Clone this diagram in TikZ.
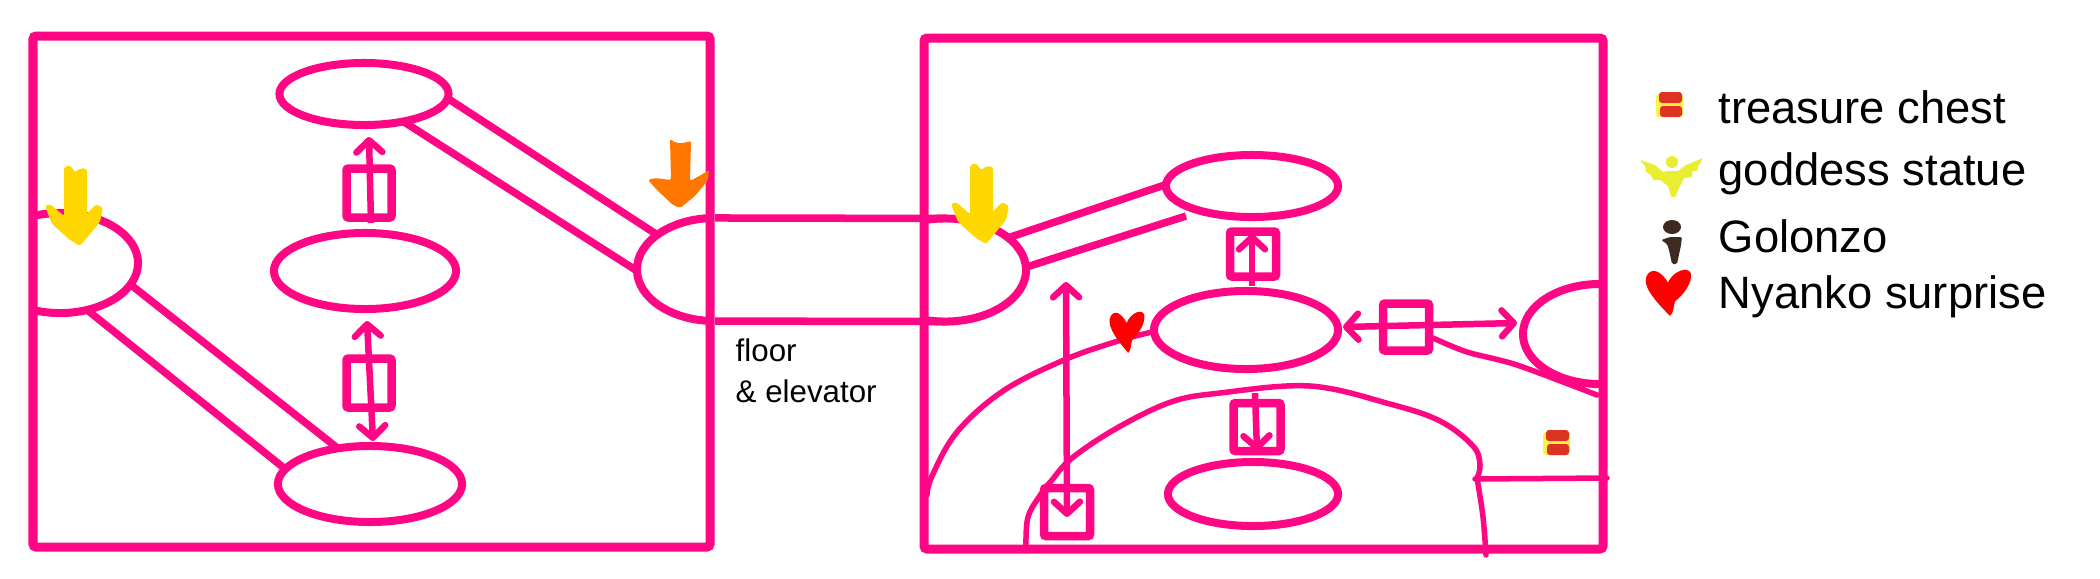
\documentclass[tikz,border=0pt]{standalone}
\usepackage{fontspec}
\setmainfont{Liberation Sans}
\usetikzlibrary{arrows.meta}
\usetikzlibrary{shapes.geometric}
\definecolor{wallPink}{HTML}{FF0784}
\definecolor{dropYellow}{HTML}{FFD700}
\definecolor{dropOrange}{HTML}{FF7700}
\definecolor{chestRed}{HTML}{DD3322}
\definecolor{chestYellow}{HTML}{FFF04A}
\definecolor{statueYellow}{HTML}{E9EF30}
\definecolor{golonzoBrown}{HTML}{3E2A20}

\begin{document}
\begin{tikzpicture}
[x=0.01cm,y=-0.01cm,%
  wallDecorate/.style={shape=rectangle,draw=wallPink,line width=0.09cm,rounded corners=0.03cm,inner sep=0pt,outer sep=0pt},
  roomDecorate/.style={shape=ellipse,draw=wallPink,line width=0.08cm,inner sep=0pt,outer sep=0pt},
  doorDecorate/.style={shape=rectangle,draw=wallPink,line width=0.085cm,rounded corners=0.02cm,inner sep=0pt,outer sep=0pt},
  lineDecorate/.style={-,draw=wallPink,line width=0.075cm},
  thinDecorate/.style={draw=wallPink,line width=0.055cm,line cap=round,line join=round},
  arrowDecorate/.style={draw=wallPink,line width=0.065cm,>={Straight Barb[round,length=0.12cm,width=0.26cm]}},
  labelDecorate/.style={inner sep=0pt,anchor=base west,align=left}]
\useasboundingbox (0,0) rectangle (2100,578);
%%
%%%%%%%%%%%%%%%%%%%%%%%%%%%%%%%%%%%%%%%%%%%%%%%%%%%%%%%%%%%%%%%%%%%%%%%%%%%
%%
%% thin cave outlines
\draw[thinDecorate] plot[smooth,tension=0.6] coordinates {
  (927,495) (932,476) (957,432) (1003,391) (1064,360) (1118,341) (1152,332)};
\draw[thinDecorate] plot[smooth,tension=0.6] coordinates {
  (1026,546) (1028,517) (1041,494) (1052,480) (1072,458) (1117,428) (1171,402) (1220,393)
  (1310,386) (1390,404) (1440,421) (1473,446) (1480,465) (1477,478)};
\draw[thinDecorate] plot[smooth,tension=0.6] coordinates {
  (1477,478) (1483,517) (1486,555)};
\draw[thinDecorate] (1475,479) -- (1607,478);
\draw[thinDecorate] plot[smooth,tension=0.5] coordinates {
  (1433,338) (1467,352) (1517,365) (1597,395)};
%%
%%%%%%%%%%%%%%%%%%%%%%%%%%%%%%%%%%%%%%%%%%%%%%%%%%%%%%%%%%%%%%%%%%%%%%%%%%%
%%
%% floors
\foreach \nodename/\x/\y/\w/\h in {
  floorL/371.5/291.5/677/511,
  floorR/1263.5/293.5/679/511}
{
  \node (\nodename) at (\x,\y) [wallDecorate,minimum width=\w*0.01cm,minimum height=\h*0.01cm] {};
}
%% rooms
\foreach \nodename/\x/\y/\rx/\ry in {
  roomA/364/94/84.5/31, roomB/365/271/91/38, roomC/370/484/92/38,
  roomD/1252/186/86/31, roomE/1246/330/92/39, roomF/1253/494/85/32}
{
  \node (\nodename) at (\x,\y) [roomDecorate,minimum width=\rx*0.02cm,minimum height=\ry*0.02cm] {};
}
%% rooms cut by a wall
\foreach \nodename/\x/\y/\rx/\ry/\cutl/\cutr in {
  hallA/60/263/78/50/33/300,
  hallB/715/269.5/78/51.5/500/710,
  hallC/945/270/81/51.5/924/1100,
  hallD/1600/334/77/50/1400/1600}
{
  \begin{scope}
    \clip (\cutl,0) rectangle (\cutr,578);
    \node (\nodename) at (\x,\y) [roomDecorate,minimum width=\rx*0.02cm,minimum height=\ry*0.02cm] {};
  \end{scope}
}
%% free ends
\foreach \nodename/\x/\y in {
  stubEnd/1186/216,
  upA/369/137, downA/371/223,
  upB/367/321, downB/373/441,
  upC/1252/234, downC/1252/286,
  upD/1255/393, downD/1257/451,
  leftE/1343/327, rightE/1517/323,
  upF/1066/282, downF/1067/517}
{
  \coordinate (\nodename) at (\x,\y);
}
%% corridors
\path
\foreach \startnode/\endnode in {
  hallA.-17/roomC.132, hallA.-60/roomC.170,
  roomA.-3/hallB.149, roomA.-35/hallB.181,
  hallB.north/hallC.north, hallB.south/hallC.south,
  hallC.27/roomD.179, hallC.2/stubEnd}
{
  (\startnode) edge[lineDecorate] (\endnode)
};
%% doors
\foreach \nodename/\x/\y/\w/\h in {
  doorA/369/193/45/49, doorB/369/383/45/49,
  doorC/1253/254/46/45, doorD/1257/427/47/48,
  doorE/1406/327/46/47, doorF/1067/512/46/48}
{
  \node (\nodename) at (\x,\y) [doorDecorate,minimum width=\w*0.01cm,minimum height=\h*0.01cm] {};
}
%% door arrows
\path
\foreach \startnode/\endnode/\tips in {
  upA/downA/<-, upB/downB/<->, upC/downC/<-, upD/downD/->, leftE/rightE/<->, upF/downF/<->}
{
  (\startnode) edge[arrowDecorate,\tips] (\endnode)
};
%%
%%%%%%%%%%%%%%%%%%%%%%%%%%%%%%%%%%%%%%%%%%%%%%%%%%%%%%%%%%%%%%%%%%%%%%%%%%%
%%
%% entry arrows
\foreach \x/\y in {0/0, 906/-2}
{
  \fill[dropYellow,shift={(\x,\y)},rounded corners=0.02cm]
    (64,167) -- (70,165) -- (75,172) -- (81,168) -- (87,169) -- (87,214)
    -- (96,204) -- (103,208) -- (100,222) -- (85,240) -- (80,246) -- (70,240)
    -- (52,224) -- (45,206) -- (50,204) -- (64,216) -- cycle;
}
\fill[dropOrange,rounded corners=0.02cm]
  (670,139) -- (676,143) -- (683,143) -- (691,141) -- (690,181)
  -- (701,175) -- (709,170) -- (708,180) -- (695,196) -- (680,208) -- (673,205)
  -- (657,190) -- (648,180) -- (655,178) -- (671,180) -- cycle;
%% hearts
\foreach \x/\y/\sx/\sy in {1109/311/0.8/0.93, 1645/269/1.04/1.04}
{
  \fill[red,shift={(\x,\y)},xscale=\sx,yscale=\sy]
    (22,13) .. controls (16,2) and (5,-3) .. (1,8)
    .. controls (-2,18) and (12,33) .. (24,45)
    .. controls (28,42) and (27,36) .. (29,31)
    .. controls (38,24) and (46,12) .. (44,4)
    .. controls (41,-3) and (27,2) .. (22,13) -- cycle;
}
%% chests
\foreach \x/\y in {1543/430, 1656/92}
{
  \begin{scope}[shift={(\x,\y)}]
    \fill[chestYellow,rounded corners=0.03cm] (0,2) rectangle (27,25);
    \fill[chestRed,rounded corners=0.03cm] (3,0) rectangle (26,11);
    \fill[chestRed,rounded corners=0.03cm] (4,14) rectangle (26,25);
  \end{scope}
}
%% statue
\fill[statueYellow] (1672,162) circle[radius=0.06cm];
\fill[statueYellow,rounded corners=0.008cm]
  (1640,160) -- (1655,165) -- (1663,172) -- (1668,171) -- (1678,171) -- (1686,165) -- (1703,158)
  -- (1699,165) -- (1697,171) -- (1692,171) -- (1692,177) -- (1684,178) -- (1680,186)
  -- (1675,197) -- (1671,197) -- (1668,186) -- (1660,180) -- (1653,180) -- (1651,175)
  -- (1646,172) -- (1645,166) -- cycle;
%% Golonzo
\fill[golonzoBrown] (1672,227) circle[x radius=0.09cm,y radius=0.07cm];
\fill[golonzoBrown,rounded corners=0.015cm]
  (1661,240) -- (1670,237) -- (1682,237) -- (1681,245) -- (1677,264) -- (1672,264)
  -- (1669,250) -- (1667,244) -- cycle;
%%
%%%%%%%%%%%%%%%%%%%%%%%%%%%%%%%%%%%%%%%%%%%%%%%%%%%%%%%%%%%%%%%%%%%%%%%%%%%
%%
%% labels
\node (labelFloor) at (735,402) [labelDecorate,font=\fontsize{8.9}{11.4}\selectfont] {floor\\\& elevator};
\foreach \nodename/\y/\txt in {
  labelChest/123/treasure chest,
  labelStatue/185/goddess statue,
  labelGolonzo/252/Golonzo,
  labelNyanko/308/Nyanko surprise}
{
  \node (\nodename) at (1718,\y) [labelDecorate,font=\fontsize{12.9}{15}\selectfont] {\txt};
}
\end{tikzpicture}
\end{document}
